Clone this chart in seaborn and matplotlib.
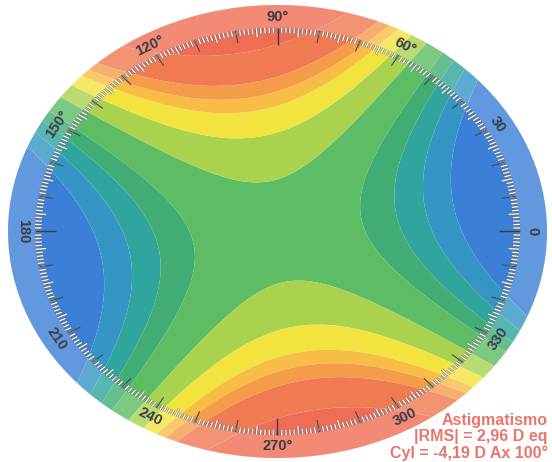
import numpy as np
import matplotlib
matplotlib.use("Agg")
import matplotlib.pyplot as plt
import matplotlib.patheffects as pe
from matplotlib.patches import Circle, Wedge
import seaborn as sns

# ---- data ----
cyl_d = -4.19          # D
axis_deg = 100         # degrees (steep meridian)
rms_d = 2.96           # D eq
# contour levels of the normalised astigmatism surface and their colours
levels = [-1.3, -0.44, -0.31, -0.20, -0.10, 0.05, 0.18, 0.29, 0.36, 0.44, 0.64, 1.3]
band_colors = ["#3b80d6", "#3596c6", "#2fa59e", "#41ad74", "#5dbc64",
               "#a9d34e", "#f2e33e", "#f7bd45", "#f59c4a", "#f07a52", "#ef6d55"]
label_angles = [0, 30, 60, 90, 120, 150, 180, 210, 240, 270, 300, 330]
label_texts = ["0", "30", "60°", "90°", "120°", "150°", "180", "210", "240", "270°", "300", "330"]
title_lines = ["Astigmatismo", "|RMS| = 2,96 D eq", "Cyl = -4,19 D Ax 100°"]

sns.set_style("white")
plt.rcParams['font.family'] = ['Liberation Sans', 'DejaVu Sans']

W, H = 552, 462
fig = plt.figure(figsize=(W / 100, H / 100), dpi=100)
ax = fig.add_axes([0, 0, 1, 1])
cx, cy, rx, ry = 277.5, 231.5, 269.5, 226.5
ax.set_xlim(-cx / rx, (W - cx) / rx)
ax.set_ylim(-(H - cy) / ry, cy / ry)
ax.axis("off")

# astigmatism surface (Zernike-like r^2 cos 2(theta - axis)), normalised
g = np.linspace(-1.02, 1.02, 500)
X, Y = np.meshgrid(g, g)
R = np.hypot(X, Y)
T = np.arctan2(Y, X)
Z = np.sign(-cyl_d) * R ** 2 * np.cos(2 * (T - np.deg2rad(axis_deg)))
cs = ax.contourf(X, Y, Z, levels=levels, colors=band_colors, antialiased=True)
clip = Circle((0, 0), 1.0, transform=ax.transData)
cs.set_clip_path(clip)

# lighter outer ring zone
ring = Wedge((0, 0), 1.0, 0, 360, width=0.10, facecolor="white", alpha=0.2,
             edgecolor="none")
ax.add_patch(ring)

# tick scale
r_out = 0.90
stroke = [pe.withStroke(linewidth=1.9, foreground="#6a6a6a", alpha=0.8)]
for a in range(0, 360):
    th = np.deg2rad(a)
    if a % 90 == 0:
        r_in, col, lw = 0.822, "#3c3c3c", 1.0
    elif a % 10 == 0:
        r_in, col, lw = 0.845, "#4a4a4a", 0.8
    elif a % 5 == 0:
        r_in, col, lw = 0.862, "white", 0.9
    else:
        r_in, col, lw = 0.876, "white", 0.9
    if col == "white":
        ax.plot([r_in * np.cos(th), r_out * np.cos(th)],
                [r_in * np.sin(th), r_out * np.sin(th)],
                color=col, lw=lw, solid_capstyle="butt", path_effects=stroke, zorder=3)
    else:
        ax.plot([0.876 * np.cos(th), r_out * np.cos(th)],
                [0.876 * np.sin(th), r_out * np.sin(th)],
                color="white", lw=0.9, solid_capstyle="butt", path_effects=stroke, zorder=3)
        ax.plot([r_in * np.cos(th), r_out * np.cos(th)],
                [r_in * np.sin(th), r_out * np.sin(th)],
                color=col, lw=lw, solid_capstyle="butt", zorder=4)

# scale labels
r_lab = 0.945
for a, s in zip(label_angles, label_texts):
    th = np.deg2rad(a)
    psi = np.degrees(np.arctan2(np.sin(th) / ry, np.cos(th) / rx))
    rot = psi - 90 if 0 < a < 180 else psi + 90
    if a == 0:
        rot = -90
    ax.text(r_lab * np.cos(th), r_lab * np.sin(th), s, rotation=rot,
            rotation_mode="anchor", ha="center", va="center",
            fontsize=10.5, fontweight="bold", color="#3b3b48", zorder=5)

# annotation
ys = [420, 437, 453]
for line, yp in zip(title_lines, ys):
    ax.text((548 - cx) / rx, (cy - yp) / ry, line, ha="right", va="center",
            fontsize=11.5, fontweight="bold", color="#e9756c", zorder=6)

fig.savefig("out.png", dpi=100)
